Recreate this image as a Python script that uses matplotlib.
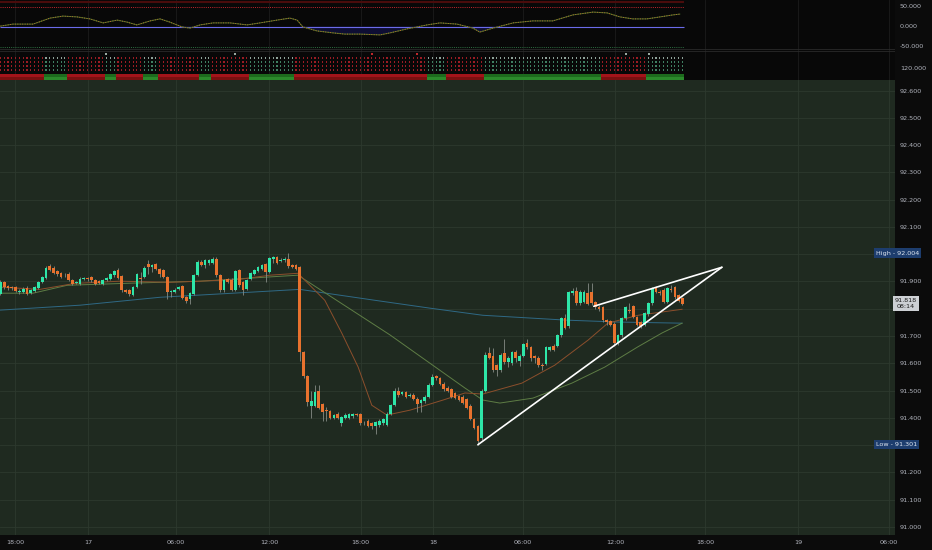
# -*- coding: utf-8 -*-
import matplotlib
matplotlib.use('Agg')
import matplotlib.pyplot as plt
import matplotlib.transforms as mtransforms
import numpy as np

# 15-minute candles (index 0..180)
opens = [
    91.855, 91.898, 91.882, 91.879, 91.879, 91.862, 91.861, 91.877, 91.859, 91.865,
    91.877, 91.898, 91.914, 91.955, 91.951, 91.938, 91.932, 91.922, 91.928, 91.906,
    91.894, 91.892, 91.910, 91.914, 91.916, 91.906, 91.901, 91.892, 91.904, 91.910,
    91.922, 91.943, 91.919, 91.870, 91.867, 91.852, 91.879, 91.914, 91.916, 91.963,
    91.953, 91.963, 91.947, 91.941, 91.916, 91.861, 91.861, 91.873, 91.883, 91.843,
    91.835, 91.855, 91.923, 91.972, 91.960, 91.966, 91.968, 91.984, 91.923, 91.868,
    91.910, 91.907, 91.870, 91.941, 91.898, 91.873, 91.910, 91.928, 91.938, 91.947,
    91.963, 91.935, 91.984, 91.990, 91.976, 91.977, 91.984, 91.959, 91.959, 91.953,
    91.640, 91.552, 91.445, 91.445, 91.500, 91.452, 91.430, 91.426, 91.400, 91.415,
    91.382, 91.400, 91.400, 91.405, 91.413, 91.415, 91.385, 91.390, 91.380, 91.370,
    91.372, 91.380, 91.375, 91.415, 91.448, 91.500, 91.488, 91.495, 91.480, 91.485,
    91.470, 91.455, 91.460, 91.478, 91.522, 91.552, 91.545, 91.525, 91.510, 91.505,
    91.490, 91.480, 91.478, 91.470, 91.445, 91.397, 91.371, 91.324, 91.500, 91.636,
    91.625, 91.592, 91.574, 91.636, 91.603, 91.600, 91.643, 91.610, 91.628, 91.676,
    91.658, 91.625, 91.620, 91.595, 91.598, 91.650, 91.664, 91.665, 91.702, 91.765,
    91.735, 91.857, 91.866, 91.820, 91.825, 91.858, 91.860, 91.823, 91.806, 91.805,
    91.757, 91.755, 91.745, 91.673, 91.702, 91.765, 91.796, 91.810, 91.770, 91.750,
    91.740, 91.780, 91.820, 91.875, 91.862, 91.870, 91.825, 91.872, 91.878, 91.850,
    91.838,
]
highs = [
    91.905, 91.903, 91.888, 91.884, 91.884, 91.872, 91.878, 91.882, 91.872, 91.884,
    91.902, 91.921, 91.956, 91.965, 91.956, 91.942, 91.936, 91.930, 91.933, 91.910,
    91.903, 91.915, 91.918, 91.918, 91.920, 91.910, 91.905, 91.908, 91.918, 91.930,
    91.942, 91.948, 91.922, 91.874, 91.871, 91.884, 91.930, 91.935, 91.955, 91.977,
    91.965, 91.967, 91.951, 91.945, 91.920, 91.868, 91.875, 91.884, 91.887, 91.847,
    91.862, 91.926, 91.977, 91.980, 91.982, 91.983, 91.990, 91.988, 91.927, 91.910,
    91.914, 91.911, 91.942, 91.945, 91.902, 91.910, 91.936, 91.947, 91.958, 91.964,
    91.967, 91.991, 91.993, 91.994, 91.985, 91.989, 92.004, 91.963, 91.963, 91.957,
    91.645, 91.556, 91.500, 91.520, 91.520, 91.456, 91.440, 91.430, 91.415, 91.420,
    91.406, 91.416, 91.417, 91.418, 91.418, 91.419, 91.390, 91.394, 91.384, 91.388,
    91.395, 91.400, 91.420, 91.452, 91.510, 91.512, 91.500, 91.500, 91.490, 91.490,
    91.475, 91.470, 91.483, 91.527, 91.560, 91.558, 91.550, 91.530, 91.515, 91.510,
    91.494, 91.485, 91.483, 91.474, 91.449, 91.401, 91.375, 91.505, 91.640, 91.660,
    91.655, 91.597, 91.637, 91.690, 91.625, 91.645, 91.648, 91.633, 91.675, 91.690,
    91.663, 91.630, 91.625, 91.600, 91.663, 91.665, 91.670, 91.707, 91.770, 91.780,
    91.865, 91.875, 91.880, 91.870, 91.870, 91.893, 91.895, 91.828, 91.812, 91.810,
    91.762, 91.760, 91.750, 91.707, 91.770, 91.810, 91.820, 91.815, 91.775, 91.755,
    91.788, 91.825, 91.880, 91.885, 91.870, 91.875, 91.880, 91.888, 91.883, 91.855,
    91.843,
]
lows = [
    91.850, 91.872, 91.868, 91.870, 91.860, 91.855, 91.856, 91.850, 91.853, 91.860,
    91.872, 91.893, 91.910, 91.938, 91.926, 91.920, 91.911, 91.917, 91.900, 91.888,
    91.889, 91.888, 91.905, 91.903, 91.899, 91.887, 91.889, 91.888, 91.900, 91.906,
    91.918, 91.910, 91.862, 91.856, 91.848, 91.847, 91.875, 91.892, 91.912, 91.928,
    91.935, 91.942, 91.916, 91.911, 91.837, 91.843, 91.856, 91.868, 91.836, 91.821,
    91.818, 91.850, 91.919, 91.955, 91.950, 91.961, 91.963, 91.918, 91.860, 91.863,
    91.893, 91.865, 91.866, 91.881, 91.850, 91.868, 91.905, 91.924, 91.934, 91.942,
    91.898, 91.930, 91.968, 91.963, 91.971, 91.972, 91.950, 91.948, 91.942, 91.610,
    91.545, 91.445, 91.400, 91.440, 91.432, 91.390, 91.390, 91.395, 91.395, 91.395,
    91.370, 91.395, 91.396, 91.400, 91.405, 91.375, 91.375, 91.365, 91.360, 91.340,
    91.367, 91.375, 91.370, 91.410, 91.443, 91.478, 91.483, 91.472, 91.475, 91.465,
    91.420, 91.420, 91.455, 91.473, 91.518, 91.540, 91.520, 91.500, 91.495, 91.473,
    91.469, 91.460, 91.451, 91.432, 91.392, 91.359, 91.301, 91.318, 91.495, 91.615,
    91.569, 91.555, 91.569, 91.598, 91.585, 91.595, 91.605, 91.590, 91.623, 91.653,
    91.610, 91.600, 91.585, 91.575, 91.593, 91.645, 91.645, 91.660, 91.697, 91.725,
    91.730, 91.850, 91.815, 91.815, 91.820, 91.813, 91.815, 91.800, 91.790, 91.752,
    91.740, 91.735, 91.665, 91.668, 91.697, 91.760, 91.785, 91.765, 91.735, 91.730,
    91.735, 91.775, 91.815, 91.857, 91.850, 91.820, 91.820, 91.863, 91.837, 91.825,
    91.813,
]
closes = [
    91.898, 91.879, 91.877, 91.876, 91.865, 91.866, 91.873, 91.855, 91.867, 91.879,
    91.898, 91.916, 91.951, 91.943, 91.931, 91.926, 91.916, 91.925, 91.906, 91.892,
    91.898, 91.910, 91.914, 91.908, 91.904, 91.892, 91.895, 91.904, 91.914, 91.926,
    91.938, 91.914, 91.867, 91.861, 91.855, 91.879, 91.926, 91.908, 91.951, 91.953,
    91.959, 91.947, 91.928, 91.916, 91.861, 91.865, 91.870, 91.879, 91.840, 91.830,
    91.857, 91.922, 91.972, 91.960, 91.978, 91.978, 91.984, 91.923, 91.868, 91.905,
    91.898, 91.870, 91.938, 91.886, 91.867, 91.906, 91.932, 91.943, 91.953, 91.959,
    91.935, 91.987, 91.988, 91.968, 91.980, 91.984, 91.955, 91.953, 91.947, 91.640,
    91.552, 91.457, 91.463, 91.493, 91.437, 91.420, 91.425, 91.400, 91.410, 91.400,
    91.402, 91.412, 91.413, 91.413, 91.410, 91.380, 91.383, 91.370, 91.370, 91.383,
    91.390, 91.395, 91.415, 91.448, 91.500, 91.482, 91.495, 91.478, 91.485, 91.470,
    91.452, 91.465, 91.478, 91.522, 91.550, 91.545, 91.525, 91.505, 91.500, 91.478,
    91.474, 91.465, 91.456, 91.437, 91.397, 91.364, 91.316, 91.500, 91.632, 91.620,
    91.574, 91.574, 91.632, 91.603, 91.620, 91.640, 91.618, 91.628, 91.670, 91.658,
    91.621, 91.618, 91.595, 91.590, 91.658, 91.660, 91.650, 91.702, 91.765, 91.730,
    91.860, 91.866, 91.820, 91.860, 91.862, 91.818, 91.820, 91.806, 91.800, 91.757,
    91.750, 91.740, 91.673, 91.702, 91.765, 91.805, 91.790, 91.770, 91.740, 91.735,
    91.783, 91.820, 91.875, 91.862, 91.858, 91.825, 91.875, 91.868, 91.842, 91.830,
    91.818,
]

# moving averages, points (bar index, price)
ma_blue_x = [0, 21.0, 42.1, 61.4, 79.0, 98.8, 113.4, 127.3, 149.5, 163.5, 179.9]
ma_blue_y = [91.795, 91.813, 91.842, 91.857, 91.871, 91.831, 91.802, 91.776, 91.758, 91.751, 91.747]
ma_green_x = [0, 8.6, 17.6, 35.0, 52.7, 70.3, 78.5, 102.8, 122.6, 127.3, 131.8, 140.5,
              150.8, 159.5, 168.2, 174.6, 179.9]
ma_green_y = [91.857, 91.857, 91.886, 91.894, 91.901, 91.916, 91.923, 91.704, 91.509, 91.465,
              91.454, 91.472, 91.527, 91.586, 91.660, 91.711, 91.747]
ma_brown_x = [0, 10.4, 19.7, 31.5, 44.7, 52.7, 63.2, 71.1, 78.5, 85.6, 90.1, 94.4, 98.0,
              102.0, 108.1, 116.8, 122.6, 127.3, 137.6, 146.3, 155.1, 160.3, 168.3, 179.9]
ma_brown_y = [91.879, 91.871, 91.893, 91.901, 91.897, 91.901, 91.908, 91.923, 91.930, 91.831,
              91.710, 91.586, 91.446, 91.410, 91.428, 91.465, 91.491, 91.487, 91.527, 91.593,
              91.685, 91.747, 91.776, 91.798]

# rising wedge drawn on the chart
wedge_low_x, wedge_low_y = [126.0, 190.4], [91.301, 91.952]
wedge_high_x, wedge_high_y = [156.6, 190.4], [91.809, 91.952]

# oscillator panel
osc_x = [0, 3.3, 8.6, 13.1, 16.5, 20.2, 23.6, 27.1, 30.8, 33.4, 36.0, 39.5, 42.1, 44.7, 47.9,
         50.0, 52.7, 56.1, 60.6, 65.1, 68.5, 73.0, 76.4, 78.3, 79.8, 83.5, 87.8, 90.9, 94.9,
         100.2, 102.8, 107.3, 112.6, 116.0, 120.5, 124.7, 126.5, 130.0, 135.3, 140.5, 145.8,
         151.1, 156.4, 160.1, 163.5, 166.9, 170.6, 174.1, 177.5, 179.3]
osc_val = [1, 6, 6, 21, 26, 24, 19, 9, 16, 11, 4, 14, 19, 11, -1, -4, 4, 9, 9, 4, 9, 16, 21,
           16, -1, -11, -16, -19, -19, -21, -16, -6, 4, 9, 6, -4, -14, -4, 9, 14, 14, 29, 36,
           34, 24, 19, 19, 24, 29, 31]

# signal panel: bar ranges painted red, the rest green
red_ranges = [(0, 11), (18, 27), (31, 37), (42, 52), (56, 65), (78, 112), (118, 127),
              (159, 166), (167, 170)]
signal_x = [27.8, 61.9, 98.0, 109.9, 165.1, 171.1]
signal_colors = ['#9aa8a0', '#9aa8a0', '#c0282c', '#c0282c', '#9aa8a0', '#9aa8a0']

time_tick_pos = [3.8, 23.1, 46.3, 70.9, 95.1, 114.1, 137.9, 162.2, 185.9, 210.5, 234.5]
time_tick_labels = ['18:00', '17', '06:00', '12:00', '18:00', '18', '06:00', '12:00',
                    '18:00', '19', '06:00']
price_ticks = [91.0, 91.1, 91.2, 91.3, 91.4, 91.5, 91.6, 91.7, 91.8, 91.9,
               92.0, 92.1, 92.2, 92.3, 92.4, 92.5, 92.6]
hidden_price_labels = [92.0, 91.8, 91.3]  # covered by the High/Low/last price tags
high_price, low_price, last_price, countdown = 92.004, 91.301, 91.818, '08:14'

W, H = 932, 550
PLOT_R = 895
TXT = '#b2b5be'
FS = 4.6
x_min, x_max = -0.13, 236.1

fig = plt.figure(figsize=(W / 100, H / 100), dpi=100, facecolor='#0b0b0b')
ax_osc = fig.add_axes([0, 1 - 50 / H, PLOT_R / W, 50 / H])
ax_sig = fig.add_axes([0, 1 - 80 / H, PLOT_R / W, 30 / H])
ax = fig.add_axes([0, 1 - 535 / H, PLOT_R / W, 455 / H])

for a in (ax_osc, ax_sig, ax):
    a.set_xlim(x_min, x_max)
    for s in a.spines.values():
        s.set_visible(False)
    a.yaxis.tick_right()
    a.tick_params(axis='y', length=0, pad=3.5, labelsize=FS, labelcolor=TXT)
    a.set_axisbelow(True)

# --- main price panel ---
ax.set_facecolor('#1f2a20')
ax.set_ylim(90.970, 92.639)
ax.set_yticks(price_ticks)
ax.set_yticklabels(['' if any(abs(p - q) < 1e-9 for q in hidden_price_labels) else f'{p:.3f}'
                    for p in price_ticks])
ax.set_xticks(time_tick_pos)
ax.set_xticklabels(time_tick_labels)
ax.tick_params(axis='x', length=0, pad=3.5, labelsize=FS, labelcolor=TXT)
ax.grid(True, color='#2d392e', lw=0.6)

x = np.arange(len(opens))
o, h, l, c = (np.array(v) for v in (opens, highs, lows, closes))
body_col = np.where(c >= o, '#2ee6a8', '#e8722e')
ax.vlines(x, l, h, colors='#858b85', lw=0.6, zorder=3)
ax.bar(x, np.maximum(np.abs(c - o), 0.002), bottom=np.minimum(o, c), width=0.72,
       color=body_col, linewidth=0, zorder=4)

ax.plot(ma_blue_x, ma_blue_y, color='#2f6985', lw=0.7, zorder=2)
ax.plot(ma_green_x, ma_green_y, color='#5e7d45', lw=0.7, zorder=2)
ax.plot(ma_brown_x, ma_brown_y, color='#8c4f2c', lw=0.7, zorder=2)

ax.plot(wedge_low_x, wedge_low_y, color='white', lw=1.2, zorder=6, solid_capstyle='round')
ax.plot(wedge_high_x, wedge_high_y, color='white', lw=1.2, zorder=6, solid_capstyle='round')

tr = mtransforms.blended_transform_factory(ax.transAxes, ax.transData)
for name, val in (('High', high_price), ('Low', low_price)):
    ax.text(876 / PLOT_R, val, f'{name} - {val:.3f}', transform=tr, ha='left', va='center',
            fontsize=FS, color='#dfe6f0', clip_on=False, zorder=10,
            bbox=dict(boxstyle='square,pad=0.35', fc='#1d3d6e', ec='none'))
ax.text(1.0, last_price, f'{last_price:.3f}\n{countdown}', transform=tr, ha='left',
        va='center', fontsize=FS, color='#1b1b1b', clip_on=False, zorder=10,
        multialignment='center', linespacing=1.3,
        bbox=dict(boxstyle='square,pad=0.3', fc='#cdd0d4', ec='none'))

# --- oscillator panel ---
last_x = len(opens) - 0.5
ax_osc.set_facecolor('#080808')
ax_osc.set_ylim(-58.75, 66.25)
ax_osc.set_yticks([50, 0, -50])
ax_osc.set_yticklabels(['50.000', '0.000', '-50.000'])
ax_osc.set_xticks(time_tick_pos)
ax_osc.tick_params(axis='x', length=0, labelbottom=False)
ax_osc.grid(True, axis='x', color='#1c1c1c', lw=0.6)
ax_osc.hlines(61, x_min, last_x, color='#4a0c0c', lw=1.5)
ax_osc.hlines(50, x_min, last_x, color='#c4262e', lw=0.7, linestyles=(0, (1, 1.2)))
ax_osc.hlines(-50, x_min, last_x, color='#2e7042', lw=0.7, linestyles=(0, (1, 1.2)))
ax_osc.axhline(-57, color='#2a2a2a', lw=0.6)
osc_arr = np.array(osc_val)
ax_osc.fill_between(osc_x, osc_arr, 0, where=osc_arr < 0, color='#0e0e33',
                    interpolate=True, lw=0)
ax_osc.hlines(0, x_min, last_x, color='#6b6bea', lw=0.8)
ax_osc.plot(osc_x, osc_val, color='#3e6e25', lw=0.7)
ax_osc.plot(osc_x, osc_val, color='#b8652e', lw=0.7, ls=(0, (1, 1.5)))

# --- signal dots panel ---
ax_sig.set_facecolor('#080808')
ax_sig.set_ylim(0, 30)
ax_sig.set_yticks([11.7])
ax_sig.set_yticklabels(['120.000'])
ax_sig.set_xticks(time_tick_pos)
ax_sig.tick_params(axis='x', length=0, labelbottom=False)
ax_sig.grid(True, axis='x', color='#1c1c1c', lw=0.6)

is_red = np.zeros(len(opens), dtype=bool)
for a, b in red_ranges:
    is_red[a:b + 1] = True
row_levels = [22, 18, 14, 10]
row_colors = ['#8fa39a', '#3f7f62', '#3f7f62', '#3f7f62']
for lvl, base in zip(row_levels, row_colors):
    ax_sig.scatter(x, np.full(len(x), lvl), s=0.7, marker='s', linewidths=0,
                   c=np.where(is_red, '#9a1c24', base))
ax_sig.bar(x, 3, bottom=3.5, width=1.0, linewidth=0, color=np.where(is_red, '#a3141a', '#1d6b1d'))
ax_sig.bar(x, 3, bottom=0.5, width=1.0, linewidth=0, color=np.where(is_red, '#7a1010', '#2b8a2b'))
ax_sig.scatter(signal_x, [26] * len(signal_x), s=1.5, marker='s', linewidths=0, c=signal_colors)
ax_sig.axhline(29.5, color='#2a2a2a', lw=0.6)

fig.savefig('out.png', dpi=100, facecolor=fig.get_facecolor())
